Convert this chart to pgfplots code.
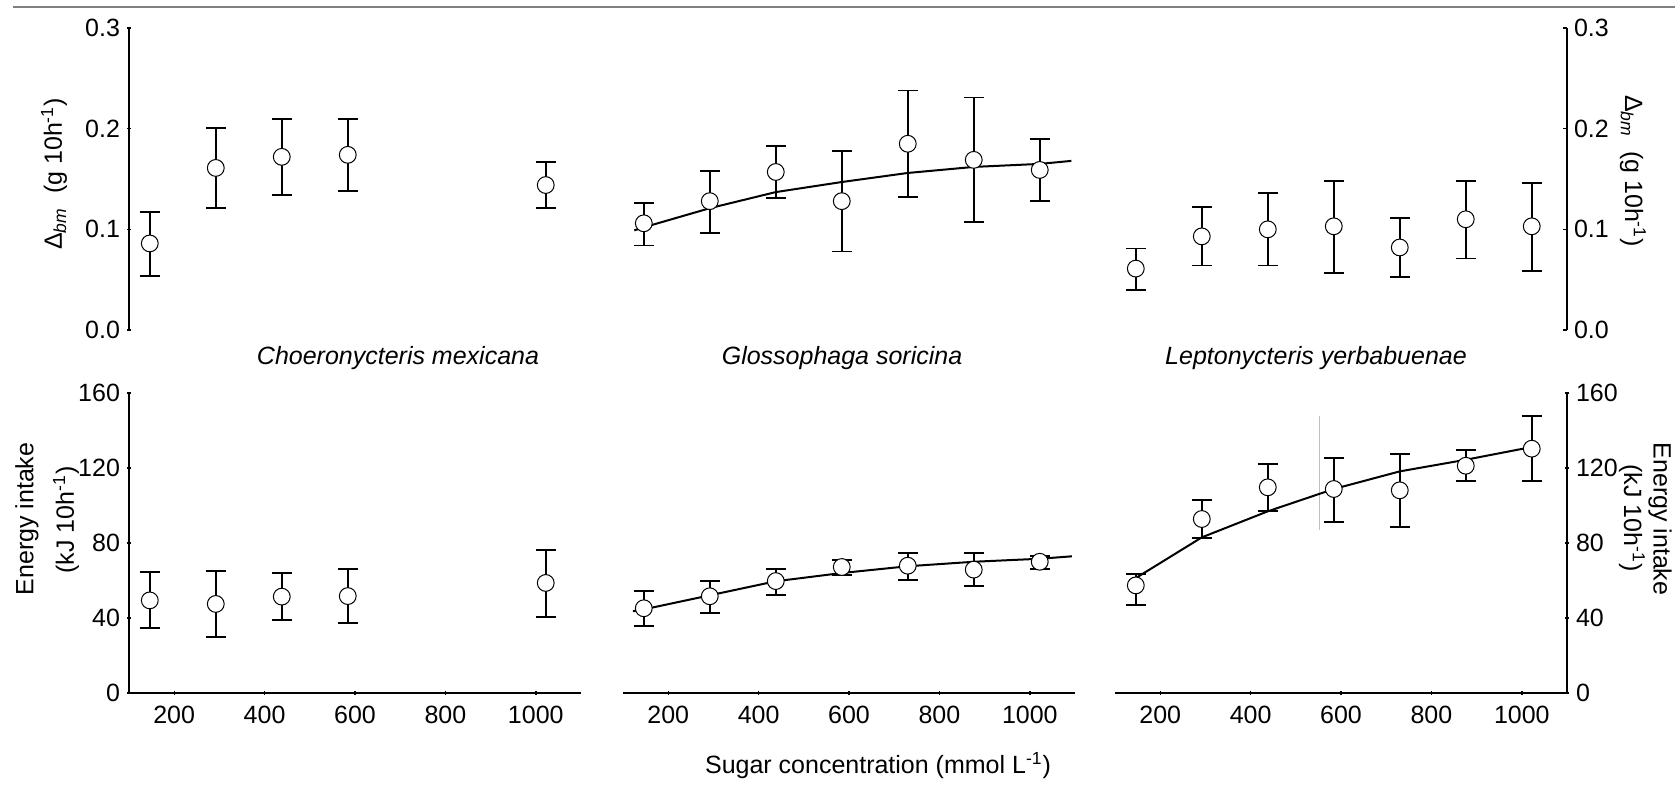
\documentclass[border=0pt]{standalone}
\usepackage{pgfplots}
\pgfplotsset{compat=1.18}
\usepackage{pgfplotstable}
\usepackage{fontspec}
\setmainfont{Liberation Sans}

\pgfplotstableread{
x y ep em
146 0.086 0.031 0.032
292 0.161 0.040 0.040
438 0.172 0.038 0.038
584 0.174 0.036 0.036
1022 0.144 0.023 0.023
}\CT
\pgfplotstableread{
x y ep em
146 0.106 0.020 0.022
292 0.128 0.030 0.032
438 0.157 0.026 0.026
584 0.128 0.050 0.050
730 0.185 0.053 0.053
876 0.169 0.062 0.062
1022 0.159 0.031 0.031
}\GT
\pgfplotstableread{
x y ep em
146 0.061 0.020 0.021
292 0.093 0.029 0.029
438 0.100 0.036 0.036
584 0.103 0.045 0.046
730 0.082 0.029 0.029
876 0.110 0.038 0.039
1022 0.103 0.043 0.044
}\LT
\pgfplotstableread{
x y ep em
146 49.4 15.1 14.7
292 47.5 17.7 17.8
438 51.4 12.4 12.3
584 51.7 14.6 14.2
1022 58.7 17.7 18.2
}\CB
\pgfplotstableread{
x y ep em
146 45.2 9.0 9.6
292 51.6 8.3 8.9
438 59.7 6.6 7.3
584 67.2 3.7 4.1
730 67.9 6.6 7.6
876 65.8 8.7 8.7
1022 70.0 3.2 3.9
}\GB
\pgfplotstableread{
x y ep em
146 57.4 6.0 10.6
292 92.8 10.0 10.1
438 109.7 12.6 12.8
584 108.8 16.4 17.4
730 108.1 19.5 19.6
876 121.2 8.6 8.3
1022 130.3 17.4 17.2
}\LB

\newcommand{\fs}{\fontsize{12.5}{15}\selectfont}

\pgfplotsset{
 base/.style={scale only axis, width=226pt, xmin=100, xmax=1100, clip=false, anchor=south west,
   tick style={line width=0.7pt, black},
   major tick length=2pt,
   /pgf/number format/assume math mode=true,
   ticklabel style={font=\fs},
   xtick={200,400,600,800,1000}, xticklabels={200,400,600,800,1000},
   xticklabel style={yshift=-2pt},
   tick align=outside},
 noarrow/.style={axis line style={-, line width=0.9pt, black},
   every outer x axis line/.append style={-},
   every outer y axis line/.append style={-},
   every inner x axis line/.append style={-},
   every inner y axis line/.append style={-}},
 top/.style={base, height=151pt, ymin=0, ymax=0.3, ytick={0,0.1,0.2,0.3},
   yticklabels={0.0,0.1,0.2,0.3}, xtick=\empty},
 bot/.style={base, height=150pt, ymin=0, ymax=160, ytick={0,40,80,120,160},
   yticklabels={0,40,80,120,160}},
 pts/.style={only marks, mark=*, mark size=4.2pt,
   mark options={fill=white, draw=black, line width=0.5pt},
   error bars/.cd, y dir=both, y explicit, error mark=-,
   error bar style={line width=0.8pt, black},
   error mark options={rotate=90, black, line width=0.9pt, mark size=5pt}},
 fit/.style={black, line width=1pt, no marks},
}

\begin{document}
\begin{tikzpicture}
\path[use as bounding box] (0,0) rectangle (837.5pt,392pt);
\draw[gray, line width=0.7pt] (6.5pt,388.5pt) -- (837.5pt,388.5pt);

% top row
\begin{axis}[top, at={(64.5pt,227pt)}, axis y line=left, axis x line=none, noarrow]
\addplot[pts] table[x=x, y=y, y error plus=ep, y error minus=em] {\CT};
\end{axis}
\begin{axis}[top, at={(311.5pt,227pt)}, hide axis]
\addplot[pts] table[x=x, y=y, y error plus=ep, y error minus=em] {\GT};
\addplot[fit] coordinates {(125,0.099) (146,0.102) (292,0.121) (438,0.137) (584,0.147) (730,0.156) (876,0.162) (1022,0.165) (1092,0.168)};
\end{axis}
\begin{axis}[top, at={(557.5pt,227pt)}, axis y line=right, axis x line=none, tick align=inside, noarrow]
\addplot[pts] table[x=x, y=y, y error plus=ep, y error minus=em] {\LT};
\end{axis}

% bottom row
\begin{axis}[bot, at={(64.5pt,45.5pt)}, axis y line=left, axis x line=bottom, noarrow]
\addplot[pts] table[x=x, y=y, y error plus=ep, y error minus=em] {\CB};
\end{axis}
\begin{axis}[bot, at={(311.5pt,45.5pt)}, axis y line=none, axis x line=bottom, noarrow]
\addplot[pts] table[x=x, y=y, y error plus=ep, y error minus=em] {\GB};
\addplot[fit] coordinates {(122,43.6) (146,44.6) (292,52.1) (438,59.6) (584,64.0) (730,67.6) (876,70.0) (1022,71.6) (1093,72.9)};
\end{axis}
\begin{axis}[bot, at={(557.5pt,45.5pt)}, axis y line=right, axis x line=bottom, noarrow]
\addplot[gray!50, line width=0.4pt] coordinates {(553,87) (553,148)};
\addplot[pts] table[x=x, y=y, y error plus=ep, y error minus=em] {\LB};
\addplot[fit] coordinates {(146,61.3) (292,83.0) (438,96.9) (584,108.8) (730,118.2) (876,124.4) (1022,131.2)};
\end{axis}

% labels
\begin{scope}[every node/.style={font=\fs, inner sep=0pt}]
\node[rotate=90] at (27pt,305pt) {Δ\textsubscript{\textit{bm}}\ \ (g 10h\textsuperscript{-1})};
\node[rotate=-90] at (816.5pt,306.5pt) {Δ\textsubscript{\textit{bm}}\ \ (g 10h\textsuperscript{-1})};
\node[rotate=90] at (13.5pt,132.5pt) {Energy intake};
\node[rotate=90] at (33pt,132pt) {(kJ 10h\textsuperscript{-1})};
\node[rotate=-90] at (830pt,132.5pt) {Energy intake};
\node[rotate=-90] at (816pt,133pt) {(kJ 10h\textsuperscript{-1})};
\node[font=\fs\itshape] at (199pt,213pt) {Choeronycteris mexicana};
\node[font=\fs\itshape] at (421pt,213pt) {Glossophaga soricina};
\node[font=\fs\itshape] at (658pt,213pt) {Leptonycteris yerbabuenae};
\node[anchor=base] at (439pt,5.5pt) {Sugar concentration (mmol L\textsuperscript{-1})};
\end{scope}
\end{tikzpicture}
\end{document}
